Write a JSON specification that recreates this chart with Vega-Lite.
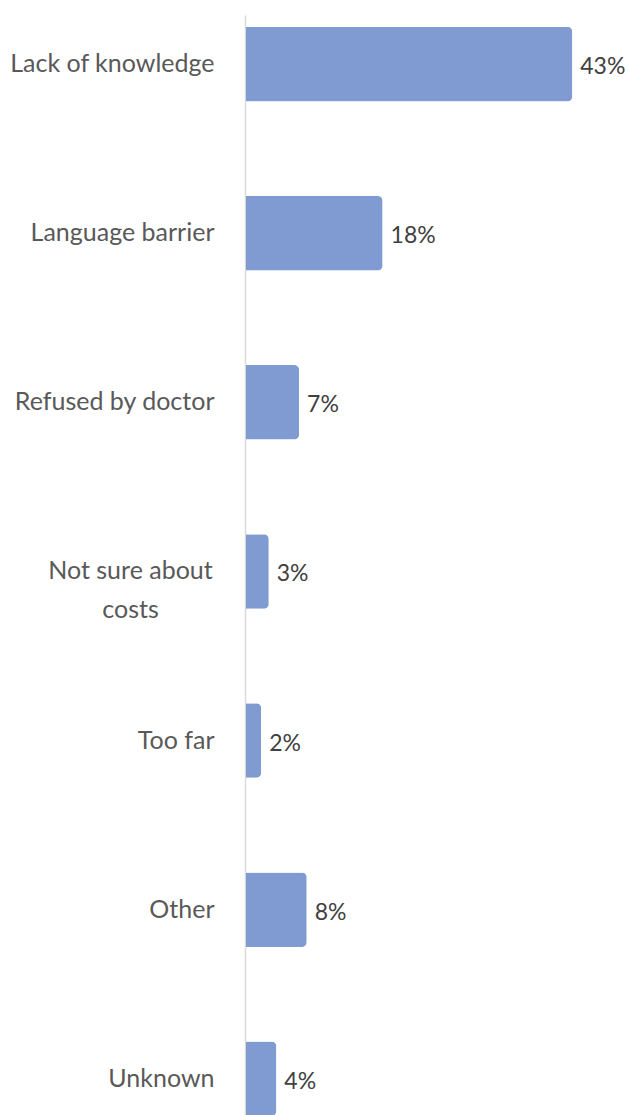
{
  "$schema": "https://vega.github.io/schema/vega-lite/v6.json",
  "width": 383,
  "height": 1101,
  "autosize": {"type": "none"},
  "padding": {"left": 246, "top": 15, "right": 0, "bottom": 0},
  "background": "white",
  "data": {
    "values": [
      {"reason": "Lack of knowledge", "pct": 43, "label": "43%"},
      {"reason": "Language barrier", "pct": 18, "label": "18%"},
      {"reason": "Refused by doctor", "pct": 7, "label": "7%"},
      {"reason": "Not sure about costs", "pct": 3, "label": "3%"},
      {"reason": "Too far", "pct": 2, "label": "2%"},
      {"reason": "Other", "pct": 8, "label": "8%"},
      {"reason": "Unknown", "pct": 4, "label": "4%"}
    ]
  },
  "encoding": {
    "y": {
      "field": "reason",
      "type": "nominal",
      "sort": null,
      "scale": {"paddingInner": 0.5594, "paddingOuter": 0.0351, "align": 1},
      "axis": {
        "title": null,
        "ticks": false,
        "tickSize": 0,
        "offset": 1,
        "domainColor": "#d9d9d9",
        "domainWidth": 1.5,
        "labelFont": "Lato",
        "labelFontSize": 25,
        "labelColor": "#595959",
        "labelLineHeight": 39,
        "labelLimit": 240,
        "labelExpr": "datum.value == 'Not sure about costs' ? ['Not sure about', 'costs'] : datum.value",
        "labelAlign": {"condition": {"test": "datum.value == 'Not sure about costs'", "value": "center"}, "value": "right"},
        "labelPadding": {"condition": {"test": "datum.value == 'Not sure about costs'", "value": 115}, "value": 31}
      }
    },
    "x": {
      "field": "pct",
      "type": "quantitative",
      "scale": {"domain": [0, 50.48], "nice": false},
      "axis": null
    }
  },
  "layer": [
    {
      "mark": {"type": "bar", "color": "#7f9bd1", "cornerRadiusEnd": 5}
    },
    {
      "mark": {"type": "text", "align": "left", "baseline": "middle", "dx": 8, "dy": 3, "font": "Lato", "fontSize": 23, "color": "#404040"},
      "encoding": {"text": {"field": "label"}}
    }
  ],
  "config": {"view": {"stroke": null}}
}
